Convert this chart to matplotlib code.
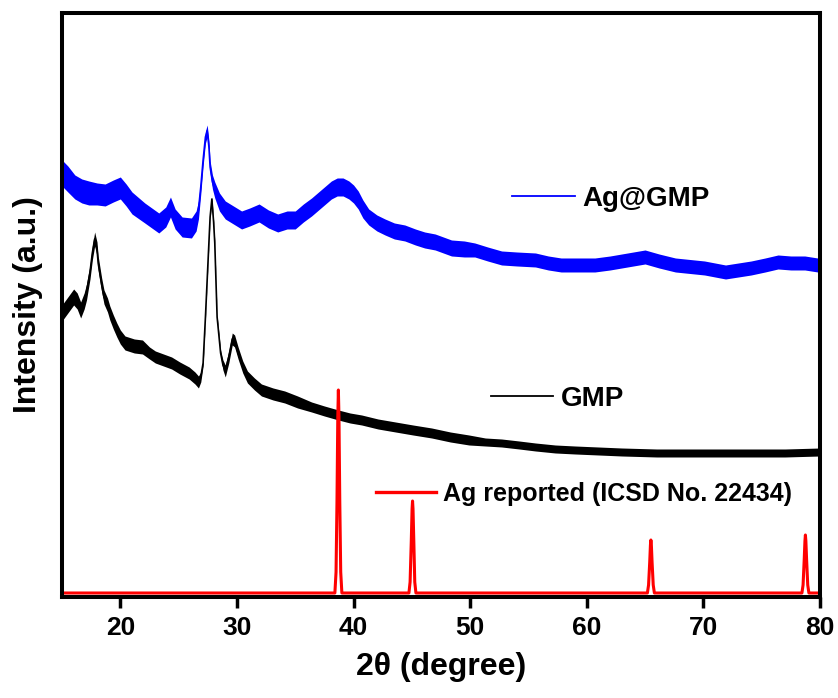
import numpy as np
import matplotlib
matplotlib.use("Agg")
import matplotlib.pyplot as plt
from matplotlib.lines import Line2D

plt.rcParams['font.family'] = ['Liberation Sans', 'DejaVu Sans']
plt.rcParams['font.weight'] = 'bold'

# Ag@GMP pattern (2theta, intensity, noise half-width)
ag_gmp_x = [15.0, 15.5, 16.1, 16.7, 17.3, 18.0, 18.7, 19.4, 20.0, 20.5, 21.0, 22.1,
            23.3, 23.9, 24.3, 24.7, 25.3, 26.1, 26.5, 26.7, 26.9, 27.1, 27.3, 27.45,
            27.6, 27.7, 27.9, 28.1, 28.5, 29.0, 29.7, 30.4, 31.1, 31.9, 32.7, 33.5,
            34.3, 35.0, 35.7, 36.4, 37.0, 37.6, 38.1, 38.6, 39.1, 39.6, 40.0, 40.4,
            40.8, 41.3, 42.0, 42.7, 43.5, 44.4, 45.3, 46.1, 47.0, 48.4, 49.5, 50.4,
            51.5, 52.7, 54.0, 55.6, 56.7, 57.8, 59.2, 60.7, 62.0, 63.5, 65.0, 66.2,
            67.6, 70.1, 71.9, 74.1, 75.3, 76.4, 77.5, 78.7, 79.8, 80.0]
ag_gmp_y = [424, 418, 410, 406, 404, 403, 402, 406, 409, 402, 394, 384,
            374, 380, 390, 378, 370, 369, 376, 387, 410, 437, 460, 466,
            450, 430, 415, 407, 395, 387, 382, 377, 380, 384, 378, 374,
            377, 377, 384, 390, 396, 402, 407, 410, 410, 407, 403, 397,
            388, 380, 374, 370, 366, 364, 360, 357, 355, 349, 348, 347,
            343, 339, 338, 337, 334, 332, 332, 332, 334, 337, 340, 336,
            332, 329, 325, 329, 332, 335, 334, 334, 332, 332]
ag_gmp_w = [13, 13, 12, 12, 12, 11, 11, 11, 11, 11, 11, 10,
            10, 10, 10, 10, 10, 10, 10, 9, 7, 6, 6, 6,
            6, 6, 7, 8, 9, 9, 9, 9, 9, 9, 9, 9,
            9, 9, 9, 9, 9, 9, 9, 9, 9, 9, 9, 9,
            9, 8, 8, 8, 8, 8, 8, 8, 8, 8, 8, 7,
            7, 7, 7, 7, 7, 7, 7, 7, 7, 7, 7, 7,
            7, 7, 7, 7, 7, 7, 7, 7, 7, 7]

# GMP pattern
gmp_x = [15.0, 15.5, 16.0, 16.3, 16.6, 16.9, 17.1, 17.4, 17.6, 17.8, 18.0, 18.1,
         18.4, 18.6, 18.9, 19.1, 19.4, 19.7, 20.0, 20.4, 21.2, 21.9, 22.5, 23.0,
         23.7, 24.4, 25.1, 25.9, 26.4, 26.7, 26.9, 27.1, 27.3, 27.5, 27.7, 27.85,
         28.0, 28.1, 28.3, 28.6, 28.8, 29.0, 29.3, 29.6, 29.8, 30.1, 30.5, 30.9,
         31.5, 32.1, 33.1, 34.1, 35.2, 36.4, 37.5, 38.7, 39.7, 40.7, 42.1, 43.6,
         45.1, 46.7, 48.3, 49.9, 51.3, 52.7, 54.2, 55.6, 57.3, 59.0, 61.0, 63.0,
         66.0, 70.0, 74.0, 77.0, 80.0]
gmp_y = [284, 292, 300, 296, 287, 296, 305, 325, 344, 358, 348, 334,
         312, 300, 292, 284, 275, 267, 260, 254, 251, 250, 244, 240,
         237, 234, 229, 224, 219, 215, 220, 234, 280, 330, 380, 398,
         375, 354, 280, 244, 232, 226, 240, 258, 256, 244, 230, 220,
         213, 207, 203, 200, 195, 190, 186, 182, 179, 177, 173, 170,
         167, 164, 160, 157, 155, 154, 152, 150, 148, 147, 146, 145,
         144, 144, 144, 144, 145]
gmp_w = [8, 8, 8, 8, 8, 8, 8, 7, 7, 7, 7, 7,
         7, 7, 7, 7, 7, 7, 7, 7, 7, 7, 6, 6,
         6, 6, 6, 6, 6, 6, 5, 3, 2, 2, 2, 2,
         2, 2, 2, 3, 5, 6, 6, 6, 6, 6, 6, 6,
         6, 6, 6, 6, 6, 5, 5, 5, 5, 5, 5, 5,
         5, 5, 5, 5, 4, 4, 4, 4, 4, 4, 4, 4,
         4, 4, 4, 4, 4]

# Ag reference (ICSD No. 22434)
ag_ref_x = [15.0,
            38.40, 38.50, 38.58, 38.65, 38.70, 38.75, 38.82, 38.90, 39.00,
            44.75, 44.85, 44.95, 45.02, 45.06, 45.10, 45.17, 45.25, 45.35,
            65.20, 65.30, 65.40, 65.46, 65.50, 65.54, 65.60, 65.70, 65.80,
            78.45, 78.55, 78.65, 78.71, 78.75, 78.79, 78.85, 78.95, 79.05,
            80.0]
ag_ref_y = [4,
            4, 25, 95, 180, 207, 180, 95, 25, 4,
            4, 15, 55, 88, 96, 88, 55, 15, 4,
            4, 12, 35, 52, 57, 52, 35, 12, 4,
            4, 12, 38, 56, 62, 56, 38, 12, 4,
            4]

fig = plt.figure(figsize=(8.38, 6.98), dpi=100)
ax = fig.add_axes([0.074, 0.1447, 0.9045, 0.8367])

for xs, ys, ws, col in [(ag_gmp_x, ag_gmp_y, ag_gmp_w, '#0000ff'),
                        (gmp_x, gmp_y, gmp_w, 'black')]:
    xs = np.array(xs); ys = np.array(ys); ws = np.array(ws)
    ax.fill_between(xs, ys - ws, ys + ws, color=col, lw=0)
    ax.plot(xs, ys, color=col, lw=1.2)

ax.plot(ag_ref_x, ag_ref_y, color='#ff0000', lw=2.2)

ax.set_xlim(15, 80)
ax.set_ylim(0, 584)
ax.set_yticks([])
ax.set_xticks([20, 30, 40, 50, 60, 70, 80])
ax.tick_params(axis='x', direction='out', length=8, width=2.5, pad=6,
               labelsize=19)
for s in ax.spines.values():
    s.set_linewidth(2.9)
for lab in ax.get_xticklabels():
    lab.set_fontweight('bold')

ax.set_xlabel('2\u03b8 (degree)', fontsize=23, fontweight='bold', labelpad=8)
ax.set_ylabel('Intensity (a.u.)', fontsize=23, fontweight='bold', labelpad=14)

# legend entries next to each curve
entries = [(0.594, 0.677, 0.687, '#0000ff', 1.3, 'Ag@GMP', 20),
           (0.566, 0.648, 0.344, 'black', 1.3, 'GMP', 20),
           (0.414, 0.493, 0.180, '#ff0000', 2.4, 'Ag reported (ICSD No. 22434)', 18)]
for x0, x1, yy, col, lw, txt, fs in entries:
    ax.add_line(Line2D([x0, x1], [yy, yy], transform=ax.transAxes, color=col, lw=lw))
    ax.text(x1 + 0.01, yy, txt, transform=ax.transAxes, fontsize=fs,
            fontweight='bold', va='center_baseline', ha='left')

fig.savefig('out.png', dpi=100)
